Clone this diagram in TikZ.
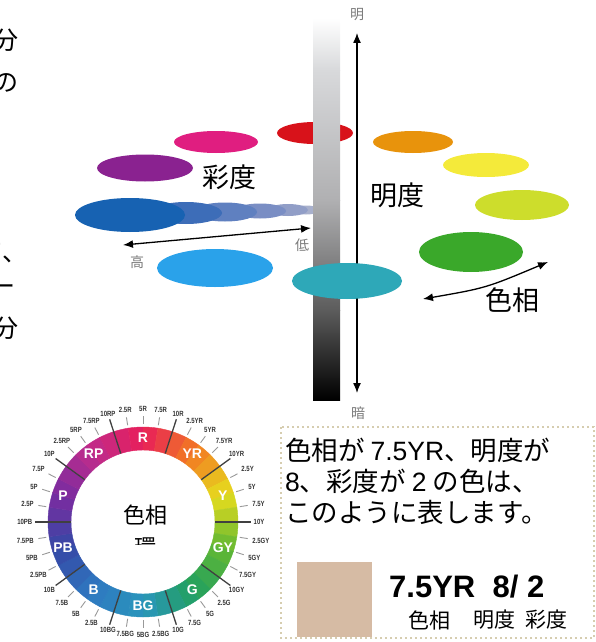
\documentclass[tikz,border=0pt]{standalone}
\usepackage{fontspec}
\setmainfont{Noto Sans CJK JP}
\newfontfamily\arialfont{Liberation Sans}
\newfontfamily\tickfont{Liberation Sans}[FakeStretch=0.8]
\usepackage{tikz}
\usetikzlibrary{arrows,arrows.meta,positioning,calc}
\definecolor{redblob}{HTML}{D8121A}
\definecolor{pinkblob}{HTML}{E01E80}
\definecolor{purpleblob}{HTML}{8A2290}
\definecolor{blueblob}{HTML}{1762B2}
\definecolor{skyblob}{HTML}{2AA2EA}
\definecolor{tealblob}{HTML}{2EA8B8}
\definecolor{orangeblob}{HTML}{E8930C}
\definecolor{yellowblob}{HTML}{F4EA3A}
\definecolor{limeblob}{HTML}{CDDD2C}
\definecolor{greenblob}{HTML}{3AA82A}
\definecolor{fadeA}{HTML}{3D6DB8}
\definecolor{fadeB}{HTML}{5F80C0}
\definecolor{fadeC}{HTML}{7A8EC4}
\definecolor{fadeD}{HTML}{919EC7}
\definecolor{fadeE}{HTML}{A8B0CC}
\definecolor{barA}{HTML}{D8D9DB}
\definecolor{barB}{HTML}{B0B0B2}
\definecolor{barC}{HTML}{5C5C5C}
\definecolor{wheel0}{HTML}{E81E5A}
\definecolor{wheel1}{HTML}{F27A22}
\definecolor{wheel2}{HTML}{E6DC1E}
\definecolor{wheel3}{HTML}{62B832}
\definecolor{wheel4}{HTML}{22A060}
\definecolor{wheel5}{HTML}{2A96BC}
\definecolor{wheel6}{HTML}{2E78C0}
\definecolor{wheel7}{HTML}{3648A6}
\definecolor{wheel8}{HTML}{7A2CA0}
\definecolor{wheel9}{HTML}{BE2C8C}
\definecolor{boxtan}{HTML}{D6CDB0}
\definecolor{chipbeige}{HTML}{D6BBA4}
\definecolor{labelgray}{HTML}{7A7A7A}
\tikzstyle{bigtext} = [inner sep=0pt,font=\fontsize{27}{27}\selectfont]
\tikzstyle{edgetext} = [inner sep=0pt,font=\fontsize{25}{25}\selectfont]
\tikzstyle{endlabel} = [inner sep=0pt,text=labelgray,font=\fontsize{14}{14}\selectfont]
\tikzstyle{notetext} = [inner sep=0pt,anchor=base west,font=\fontsize{26.5}{26.5}\selectfont]
\tikzstyle{legendtext} = [inner sep=0pt,font=\fontsize{21}{21}\selectfont]
\tikzstyle{scalearrow} = [line width=1.3pt,arrows={Latex[length=10pt,width=8pt]-Latex[length=10pt,width=8pt]}]
\tikzstyle{huemajor} = [draw=black!75,line width=1.3pt]
\tikzstyle{hueminor} = [draw=black!40,line width=0.9pt]
\tikzstyle{huetick} = [inner sep=0.5pt,text=black!80,font=\tickfont\bfseries\fontsize{7.5}{7.5}\selectfont]
\tikzstyle{hueletter} = [inner sep=0pt,text=white,font=\arialfont\bfseries\fontsize{14}{14}\selectfont]
\tikzstyle{notebox} = [draw=boxtan,line width=2pt,dash pattern=on 2pt off 3pt]
\tikzstyle{chip} = [fill=chipbeige,minimum size=75pt,inner sep=0pt]
\begin{document}
\begin{tikzpicture}[x=1pt,y=-1pt]
      \useasboundingbox (0,0) rectangle (596,642);
      \clip (0,0) rectangle (596,642);

      % text cut off at the left edge
      \node (cutA)[edgetext] at (6,40) {分};
      \node (cutB)[edgetext] at (6,83) {の};
      \node (cutC)[edgetext] at (3,253) {て、};
      \node (cutD)[edgetext] at (3,290) {ー};
      \node (cutE)[edgetext] at (6,328) {分};

      % colour blobs behind the bar
      \fill[redblob] (315,133) ellipse [x radius=38,y radius=11];
      \fill[pinkblob] (216,142) ellipse [x radius=42,y radius=11];
      \fill[purpleblob] (145,168) ellipse [x radius=48,y radius=13.5];
      \fill[fadeE] (306,210) ellipse [x radius=14,y radius=4.5];
      \fill[fadeD] (288,210) ellipse [x radius=20,y radius=6];
      \fill[fadeC] (260,211) ellipse [x radius=26,y radius=7.5];
      \fill[fadeB] (225,212) ellipse [x radius=32,y radius=9.5];
      \fill[fadeA] (186,213) ellipse [x radius=36,y radius=11];
      \fill[blueblob] (130,215) ellipse [x radius=55,y radius=17];
      \fill[skyblob] (215,268) ellipse [x radius=58,y radius=19];

      % value bar
      \shade[top color=white,bottom color=barA] (313,18) rectangle (340,70);
      \shade[top color=barA,bottom color=barB] (313,70) rectangle (340,200);
      \shade[top color=barB,bottom color=barC] (313,200) rectangle (340,310);
      \shade[top color=barC,bottom color=black] (313,310) rectangle (340,400);

      \coordinate (lightTop) at (357,33);
      \coordinate (lightBottom) at (357,393);
      \draw[scalearrow] (lightTop) -- (lightBottom);

      \fill[tealblob] (347,281) ellipse [x radius=55,y radius=18];
      \fill[orangeblob] (413,142) ellipse [x radius=40,y radius=11];
      \fill[yellowblob] (486,165) ellipse [x radius=43,y radius=12];
      \fill[limeblob] (522,205) ellipse [x radius=47,y radius=15];
      \fill[greenblob] (471,252) ellipse [x radius=52,y radius=20];

      \coordinate (chromaHigh) at (123,245);
      \coordinate (chromaLow) at (311,228);
      \draw[scalearrow] (chromaHigh) -- (chromaLow);
      \coordinate (hueFrom) at (423,299);
      \coordinate (hueTo) at (548,262);
      \draw[scalearrow] (hueFrom) .. controls (486,288) .. (hueTo);

      \node (light)[endlabel] at (357,15) {明};
      \node (dark)[endlabel] at (358,413) {暗};
      \node (high)[endlabel] at (137,262) {高};
      \node (low)[endlabel] at (302,245) {低};
      \node (chromaName)[bigtext] at (229,177) {彩度};
      \node (valueName)[bigtext] at (397,195) {明度};
      \node (hueName)[bigtext] at (512,300) {色相};

      % hue circle
      \begin{scope}[shift={(143,522)},yscale=-1]
        \foreach \i in {0,...,39} {
          \pgfmathtruncatemacro\h{\i/4}
          \pgfmathtruncatemacro\k{mod(\i,4)}
          \pgfmathtruncatemacro\prv{mod(\h+9,10)}
          \pgfmathtruncatemacro\nxt{mod(\h+1,10)}
          \pgfmathtruncatemacro\mate{\k<2 ? \prv : \nxt}
          \pgfmathtruncatemacro\pct{(\k==0 || \k==3) ? 65 : 88}
          \pgfmathsetmacro\aS{108-9*\i}
          \pgfmathsetmacro\aE{99-9*\i}
          \filldraw[line width=0.4pt,draw=wheel\h!\pct!wheel\mate,fill=wheel\h!\pct!wheel\mate]
            (\aS:95) arc (\aS:\aE:95) -- (\aE:72) arc (\aE:\aS:72) -- cycle;
        }
        \foreach \a in {108,72,36,0,-36,-72,-108,-144,-180,-216}
          \draw[huemajor] (\a:72) -- (\a:108);
        \foreach \h [count=\hi from 0] in {R,YR,Y,GY,G,BG,B,PB,P,RP} {
          \pgfmathsetmacro\mid{90-36*\hi}
          \node (hue\h)[hueletter] at (\mid:84) {\h};
          \foreach \s [count=\si from 0] in {2.5,5,7.5,10} {
            \pgfmathsetmacro\ang{99-36*\hi-9*\si}
            \pgfmathtruncatemacro\anc{mod(\ang+540,360)}
            \ifnum\si<3 \draw[hueminor] (\ang:98) -- (\ang:106); \fi
            \node (tick\hi\si)[huetick,anchor=\anc] at (\ang:110) {\s\h};
          }
        }
      \end{scope}
      \node (wheelName)[inner sep=0pt,font=\fontsize{22}{22}\selectfont] at (145,515) {色相};
      \begin{scope}
        \clip (110,530) rectangle (180,544);
        \node (wheelCut)[inner sep=0pt,font=\fontsize{22}{22}\selectfont] at (145,547) {環};
      \end{scope}

      % example notation
      \draw[notebox] (281,427) rectangle (594,638);
      \node (note1)[notetext] at (285,460) {色相が {\arialfont 7.5YR}、明度が};
      \node (note2)[notetext] at (285,491) {{\arialfont 8}、彩度が {\arialfont 2} の色は、};
      \node (note3)[notetext] at (285,522) {このように表します。};
      \node (chip)[chip] at (334.5,599.5) {};
      \node (code)[inner sep=0pt,anchor=base west,font=\arialfont\bfseries\fontsize{31}{31}\selectfont] at (389,597) {7.5YR\ \ 8/ 2};
      \node (legHue)[legendtext] at (429,620) {色相};
      \node (legValue)[legendtext] at (494,620) {明度};
      \node (legChroma)[legendtext] at (546,620) {彩度};
\end{tikzpicture}
\end{document}
